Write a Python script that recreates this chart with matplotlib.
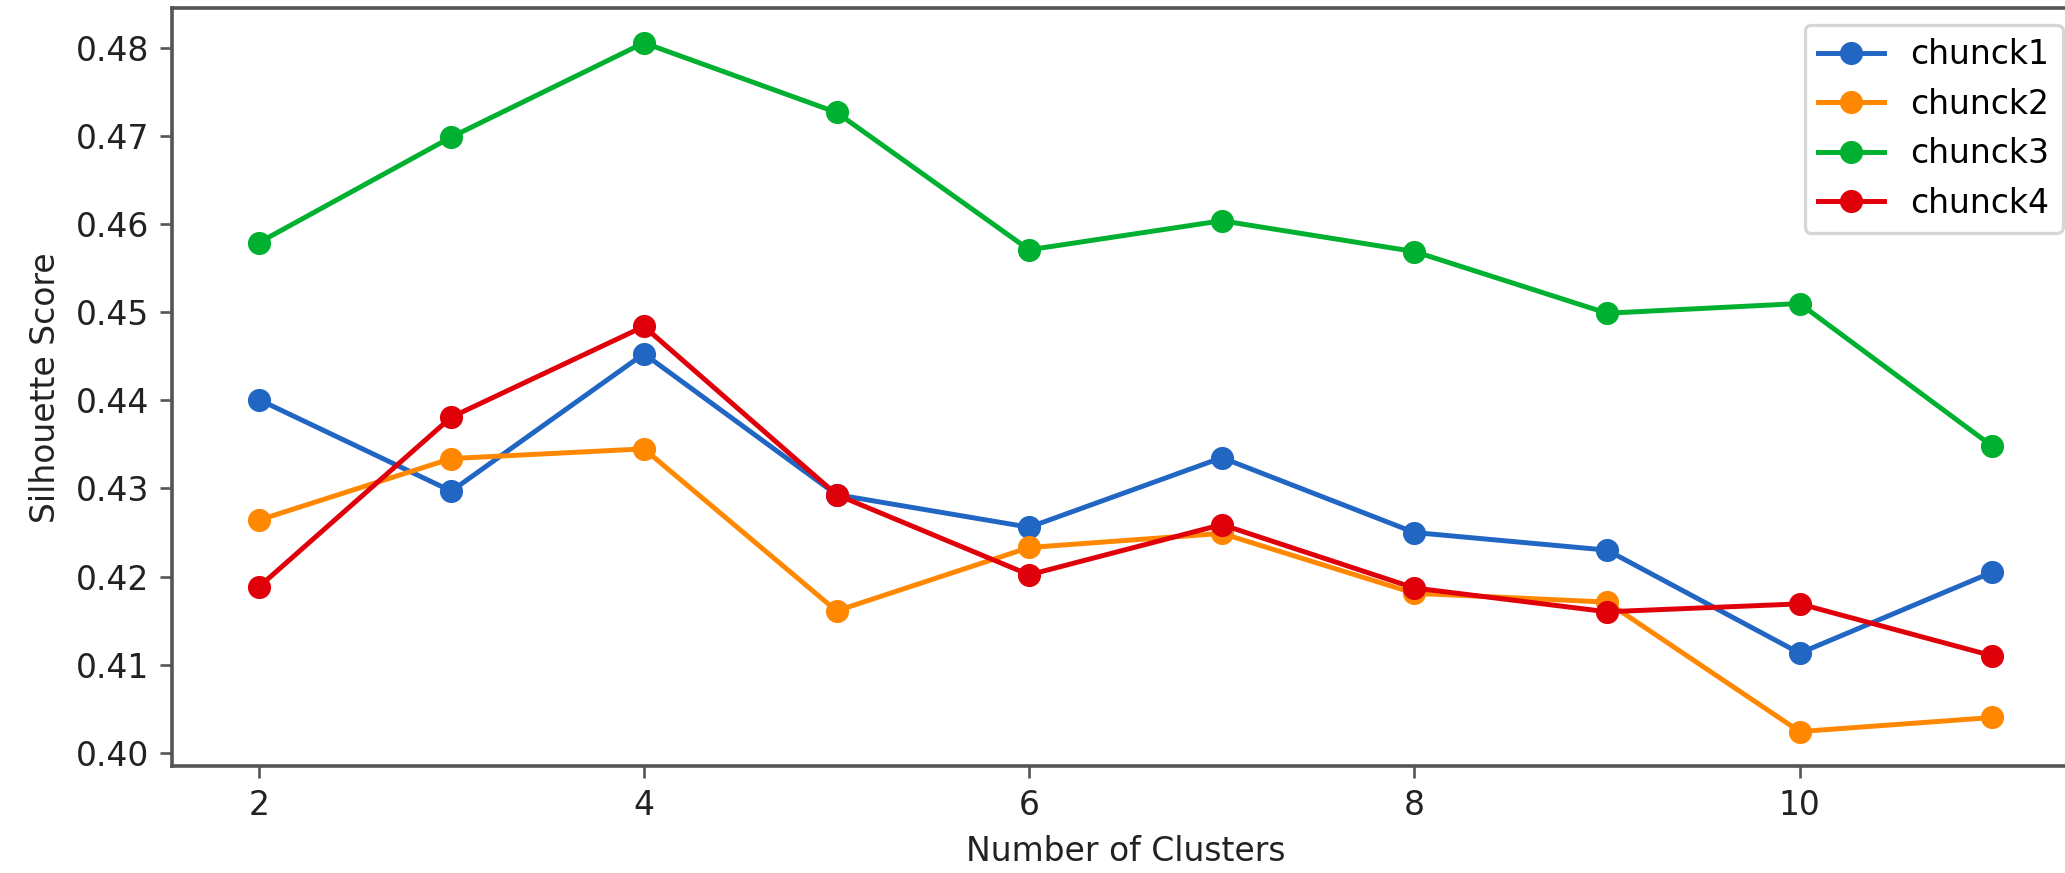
import matplotlib
matplotlib.use('Agg')
import matplotlib.pyplot as plt

# silhouette scores per chunk
clusters = [2, 3, 4, 5, 6, 7, 8, 9, 10, 11]
chunck1 = [0.4401, 0.4297, 0.4453, 0.4293, 0.4256, 0.4335, 0.4250, 0.4230, 0.4113, 0.4205]
chunck2 = [0.4264, 0.4334, 0.4345, 0.4161, 0.4233, 0.4249, 0.4181, 0.4171, 0.4024, 0.4040]
chunck3 = [0.4579, 0.4699, 0.4806, 0.4727, 0.4571, 0.4604, 0.4569, 0.4499, 0.4510, 0.4348]
chunck4 = [0.4188, 0.4381, 0.4484, 0.4293, 0.4202, 0.4259, 0.4187, 0.4160, 0.4169, 0.4110]

series = {'chunck1': chunck1, 'chunck2': chunck2, 'chunck3': chunck3, 'chunck4': chunck4}
colors = ['#2266c4', '#ff8800', '#00b030', '#e0000a']

dpi = 237.6
fig = plt.figure(figsize=(2065 / dpi, 873 / dpi), dpi=dpi)
# the screenshot cuts the right edge of the axes off
ax = fig.add_axes([172 / 2065, 1 - 766 / 873, 1907 / 2065, (766 - 8.4) / 873])

for (name, vals), c in zip(series.items(), colors):
    ax.plot(clusters, vals, marker='o', color=c, label=name)

for sp in ax.spines.values():
    sp.set_color('#555555')
    sp.set_linewidth(1.1)
ax.tick_params(color='#555555', labelcolor='#222222')

ax.set_xlabel('Number of Clusters', color='#222222')
ax.set_ylabel('Silhouette Score', color='#222222')
ax.legend(loc='upper right')

fig.savefig('out.png', dpi=dpi)
